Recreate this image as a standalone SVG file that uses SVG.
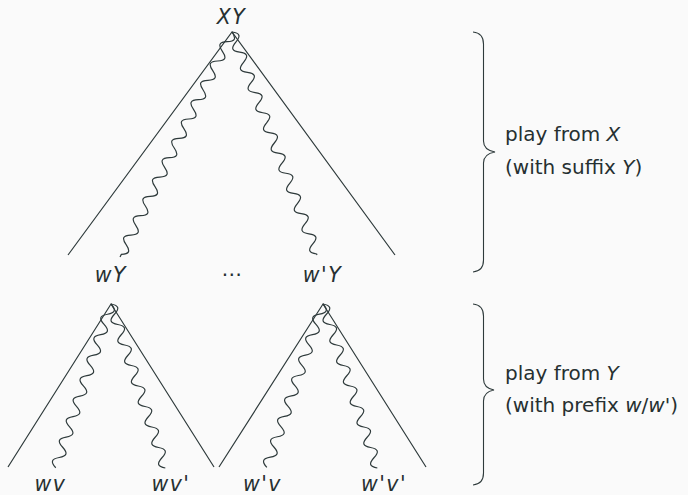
<svg xmlns="http://www.w3.org/2000/svg" xmlns:xlink="http://www.w3.org/1999/xlink" width="688" height="495" viewBox="0 0 688 495">
  <style>
    .edge { fill: none; stroke: #2e3a3b; stroke-width: 1.2; stroke-linejoin: miter; }
    .snake { fill: none; stroke: #2e3a3b; stroke-width: 1.2; }
    .brace { fill: none; stroke: #2e3a3b; stroke-width: 1.1; }
    .lbl { font-family: "DejaVu Sans", "Liberation Sans", sans-serif; font-size: 20.5px; font-style: italic; fill: #263031; text-anchor: middle; letter-spacing: 1.5px; }
    .note { font-family: "DejaVu Sans", "Liberation Sans", sans-serif; font-size: 20px; fill: #263031; }
    .note .m { font-style: italic; }
  </style>
  <defs>
    <!-- snake decorations along the local x axis: half-wave 10.8, amplitude ~5.2 -->
    <path id="wave23" d="M0,0 c3.9,-7 6.9,-7 10.8,0 s6.9,7 10.8,0 s6.9,-7 10.8,0 s6.9,7 10.8,0 s6.9,-7 10.8,0 s6.9,7 10.8,0 s6.9,-7 10.8,0 s6.9,7 10.8,0 s6.9,-7 10.8,0 s6.9,7 10.8,0 s6.9,-7 10.8,0 s6.9,7 10.8,0 s6.9,-7 10.8,0 s6.9,7 10.8,0 s6.9,-7 10.8,0 s6.9,7 10.8,0 s6.9,-7 10.8,0 s6.9,7 10.8,0 s6.9,-7 10.8,0 s6.9,7 10.8,0 s6.9,-7 10.8,0 s6.9,7 10.8,0 s6.9,-7 10.8,0 l2.9,0"/>
    <path id="wave22" d="M0,0 c3.9,-7 6.9,-7 10.8,0 s6.9,7 10.8,0 s6.9,-7 10.8,0 s6.9,7 10.8,0 s6.9,-7 10.8,0 s6.9,7 10.8,0 s6.9,-7 10.8,0 s6.9,7 10.8,0 s6.9,-7 10.8,0 s6.9,7 10.8,0 s6.9,-7 10.8,0 s6.9,7 10.8,0 s6.9,-7 10.8,0 s6.9,7 10.8,0 s6.9,-7 10.8,0 s6.9,7 10.8,0 s6.9,-7 10.8,0 s6.9,7 10.8,0 s6.9,-7 10.8,0 s6.9,7 10.8,0 s6.9,-7 10.8,0 s6.9,7 10.8,0 l1.0,0"/>
    <path id="wave16" d="M0,0 c3.9,-7 6.9,-7 10.8,0 s6.9,7 10.8,0 s6.9,-7 10.8,0 s6.9,7 10.8,0 s6.9,-7 10.8,0 s6.9,7 10.8,0 s6.9,-7 10.8,0 s6.9,7 10.8,0 s6.9,-7 10.8,0 s6.9,7 10.8,0 s6.9,-7 10.8,0 s6.9,7 10.8,0 s6.9,-7 10.8,0 s6.9,7 10.8,0 s6.9,-7 10.8,0 s6.9,7 10.8,0"/>
  </defs>

  <rect width="688" height="495" fill="#fafafa"/>

  <!-- connectors: game-tree outlines and play paths -->
  <g id="connectors">
    <polyline class="edge" points="68,255 232,32 395,255"/>
    <polyline class="edge" points="8,467 111,304 214,467"/>
    <polyline class="edge" points="219,467 323,304 426,467"/>
    <use class="snake" xlink:href="#wave23" transform="translate(232 32) rotate(116.46)"/>
    <use class="snake" xlink:href="#wave22" transform="translate(232 32) rotate(69.13)"/>
    <use class="snake" xlink:href="#wave16" transform="translate(111 304) rotate(108.64)"/>
    <use class="snake" xlink:href="#wave16" transform="translate(111 304) rotate(71.67)"/>
    <use class="snake" xlink:href="#wave16" transform="translate(323 304) rotate(108.96)"/>
    <use class="snake" xlink:href="#wave16" transform="translate(323 304) rotate(71.67)"/>
  </g>

  <!-- position nodes -->
  <g id="node-XY"><text class="lbl" x="231.5" y="24">XY</text></g>
  <g id="node-wY"><text class="lbl" x="111" y="282">wY</text></g>
  <g id="node-dots"><text class="lbl" x="232" y="281" style="letter-spacing:0">⋯</text></g>
  <g id="node-w1Y"><text class="lbl" x="322.5" y="282">w'Y</text></g>
  <g id="node-wv"><text class="lbl" x="50.5" y="491">wv</text></g>
  <g id="node-wv1"><text class="lbl" x="171" y="491">wv'</text></g>
  <g id="node-w1v"><text class="lbl" x="262.5" y="491">w'v</text></g>
  <g id="node-w1v1"><text class="lbl" x="384" y="491">w'v'</text></g>

  <!-- brace annotations -->
  <g id="note-playX">
    <path class="brace" d="M473,32 Q483.5,33 483.5,44 L483.5,141 Q483.5,150 495,152 Q483.5,154 483.5,163 L483.5,260 Q483.5,271 473,272"/>
    <text class="note" x="505" y="141">play from <tspan class="m">X</tspan></text>
    <text class="note" x="505" y="173.5">(with suffix <tspan class="m">Y</tspan>)</text>
  </g>
  <g id="note-playY">
    <path class="brace" d="M473,304 Q483.5,305 483.5,316 L483.5,379 Q483.5,388 494,390 Q483.5,392 483.5,401 L483.5,473 Q483.5,484 473,485"/>
    <text class="note" x="505" y="379.5">play from <tspan class="m">Y</tspan></text>
    <text class="note" x="505" y="412">(with prefix <tspan class="m">w</tspan>/<tspan class="m">w'</tspan>)</text>
  </g>
</svg>
